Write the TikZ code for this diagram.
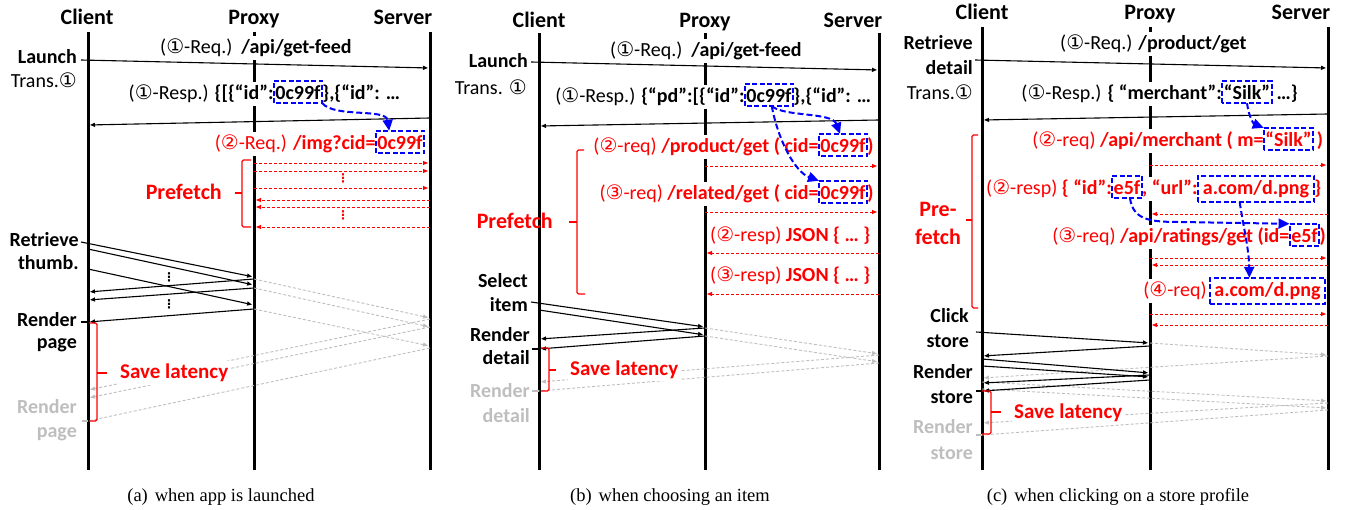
\documentclass[tikz,border=0pt]{standalone}
\usepackage{fontspec}
\setmainfont{Carlito}
\newfontfamily\symf{DejaVu Sans}
\newfontfamily\capf{Liberation Serif}
\usetikzlibrary{arrows.meta}
\definecolor{myred}{RGB}{255,0,0}
\definecolor{mygray}{RGB}{190,190,190}
\definecolor{myblue}{RGB}{0,0,255}
\newcommand\fs[1]{\fontsize{#1}{#1}\selectfont}
\newcommand\myc[1]{{\symf\fontsize{20}{20}\selectfont #1}}
\tikzset{
 life/.style={line width=3pt},
 hd/.style={font=\fs{22}\bfseries, anchor=base, inner sep=0pt},
 lb/.style={font=\fs{20}\bfseries, anchor=base east, inner sep=0pt},
 lr/.style={font=\fs{20}, anchor=base east, inner sep=0pt},
 tr/.style={font=\fs{20}, inner xsep=0pt, inner ysep=3pt, fill=white},
 bw/.style={tr, anchor=base west},
 be/.style={tr, anchor=base east},
 bxb/.style={font=\fs{20}\bfseries, inner xsep=1.5pt, inner ysep=2.5pt, text height=16.5pt, text depth=0.5pt, fill=white, anchor=base},
 msg/.style={black, line width=1.1pt, -{Triangle[length=5pt,width=4pt]}, shorten >=2pt},
 tick/.style={black, line width=1.1pt},
 gmsg/.style={mygray, line width=0.9pt, dash pattern=on 3pt off 2pt, -{Triangle[length=5pt,width=4pt]}, shorten >=2pt},
 gline/.style={mygray, line width=0.9pt, dash pattern=on 3pt off 2pt},
 gtick/.style={mygray, line width=1.1pt},
 rmsg/.style={myred, line width=0.9pt, dash pattern=on 3pt off 2pt, -{Triangle[length=5pt,width=4pt]}, shorten >=2pt},
 brc/.style={myred, line width=1.2pt, rounded corners=1.5pt},
 barr/.style={myblue, line width=2pt, dash pattern=on 6pt off 3pt, -{Triangle[length=11pt,width=10pt]}},
 bbox/.style={myblue, line width=2pt, dash pattern=on 5pt off 2.5pt},
 sl/.style={font=\fs{21}\bfseries, text=myred, anchor=base west, inner xsep=2pt, inner ysep=3pt, fill=white},
 pf/.style={font=\fs{22}\bfseries, text=myred, inner sep=0pt},
 capn/.style={font=\capf\fs{18.5}, anchor=base, inner sep=0pt},
 dots/.style={font=\symf\bfseries\fs{12}, inner sep=0pt}
}
\begin{document}
\begin{tikzpicture}[x=1pt,y=-1pt]
\useasboundingbox (0,0) rectangle (1349,510);
% ---------------- lifelines ----------------
\coordinate (aC) at (88,32); \coordinate (aP) at (254,32); \coordinate (aS) at (430,32);
\coordinate (bC) at (539,33); \coordinate (bP) at (705,33); \coordinate (bS) at (879,33);
\coordinate (cC) at (982,27); \coordinate (cP) at (1150,27); \coordinate (cS) at (1328,27);
\foreach \l in {aC,aP,aS,bC,bP,bS,cC,cP,cS} \draw[life] (\l) -- (\l |- 0,470);
% ---------------- headers ----------------
\node[hd] (aCh) at (87,25) {Client};
\node[hd] (aPh) at (254,25) {Proxy};
\node[hd] (aSh) at (403,25) {Server};
\node[hd] (bCh) at (539,28) {Client};
\node[hd] (bPh) at (705,28) {Proxy};
\node[hd] (bSh) at (853,28) {Server};
\node[hd] (cCh) at (982,20) {Client};
\node[hd] (cPh) at (1150,20) {Proxy};
\node[hd] (cSh) at (1301,20) {Server};
% ================= PANEL A =================
\node[lb] (aL1) at (77,64) {Launch};
\node[lr] (aL2) at (77,88) {Trans.\myc{①}};
\node[bw] (a1t) at (160,54) {(\myc{①}-Req.)\ \ \textbf{/api/get-feed}};
\node[bxb] (a_b1) at (298,100) {0c99f};
\node[be] (a2a) at (a_b1.base west) {(\myc{①}-Resp.) \textbf{\{[\{“id”:}\ };
\node[bw] (a2c) at (a_b1.base east) {\textbf{\},\{“id”: …}};
\node[bxb, text=myred] (a_b2) at (400,150) {0c99f};
\node[be, text=myred] (a3a) at (a_b2.base west) {(\myc{②}-Req.) \textbf{/img?cid=}};
\node[pf, anchor=base east] (aPf) at (222,200) {Prefetch};
\node[dots, text=myred] (aD1) at (343,178) {⋮};
\node[dots, text=myred] (aD2) at (343,215) {⋮};
\node[lb] (aR1) at (79,247) {Retrieve};
\node[lb] (aR2) at (79,270) {thumb.};
\node[dots] (aD3) at (169,277) {⋮};
\node[dots] (aD4) at (169,304) {⋮};
\node[lb] (aRp1) at (77,327) {Render};
\node[lb] (aRp2) at (77,349) {page};
\node[lb, text=mygray] (aG1) at (77,413) {Render};
\node[lb, text=mygray] (aG2) at (77,437) {page};
\node[capn] (aCap) at (221,501) {(a)\hspace{7pt}when app is launched};
% ================= PANEL B =================
\node[lb] (bL1) at (528,68) {Launch};
\node[lr] (bL2) at (527,95) {Trans. \myc{①}};
\node[bw] (b1t) at (610,57) {(\myc{①}-Req.)\ \ \textbf{/api/get-feed}};
\node[bxb] (b_b1) at (769,103) {0c99f};
\node[be] (b2a) at (b_b1.base west) {(\myc{①}-Resp.) \textbf{\{“pd”:[\{“id”:}\ };
\node[bw] (b2c) at (b_b1.base east) {\textbf{\},\{“id”: …}};
\node[bxb, text=myred] (b_b2) at (843,153) {0c99f};
\node[be, text=myred] (b3a) at (b_b2.base west) {(\myc{②}-req) \textbf{/product/get ( cid=}};
\node[bw, text=myred] (b3c) at (b_b2.base east) {\textbf{)}};
\node[bxb, text=myred] (b_b3) at (843,200) {0c99f};
\node[be, text=myred] (b4a) at (b_b3.base west) {(\myc{③}-req) \textbf{/related/get ( cid=}};
\node[bw, text=myred] (b4c) at (b_b3.base east) {\textbf{)}};
\node[bw, text=myred] (b5t) at (710,242) {(\myc{②}-resp) \textbf{JSON \{ … \}}};
\node[bw, text=myred] (b6t) at (710,282) {(\myc{③}-resp) \textbf{JSON \{ … \}}};
\node[pf, anchor=base east] (bPf) at (553,229) {Prefetch};
\node[lb] (bS1) at (528,288) {Select};
\node[lb] (bS2) at (528,312) {item};
\node[lb] (bRd1) at (530,342) {Render};
\node[lb] (bRd2) at (530,365) {detail};
\node[lb, text=mygray] (bG1) at (530,398) {Render};
\node[lb, text=mygray] (bG2) at (530,422) {detail};
\node[capn] (bCap) at (670,501) {(b)\hspace{7pt}when choosing an item};
% ================= PANEL C =================
\node[lb] (cL1) at (973,50) {Retrieve};
\node[lb] (cL2) at (973,75) {detail};
\node[lr] (cL3) at (973,100) {Trans.\myc{①}};
\node[bw] (c1t) at (1060,50) {(\myc{①}-Req.) \textbf{/product/get}};
\node[bxb] (c_b1) at (1247,100) {“Silk”};
\node[be] (c2a) at (c_b1.base west) {(\myc{①}-Resp.) \textbf{\{ “merchant”:}};
\node[bw] (c2c) at (c_b1.base east) {\textbf{\ …\}}};
\node[bxb, text=myred] (c_b2) at (1288.5,147) {“Silk”};
\node[be, text=myred] (c3a) at (c_b2.base west) {(\myc{②}-req) \textbf{/api/merchant ( m=}};
\node[bw, text=myred] (c3c) at (c_b2.base east) {\textbf{\,)}};
\node[bxb, text=myred] (c_b3) at (1127,195) {e5f};
\node[be, text=myred] (c4a) at (c_b3.base west) {(\myc{②}-resp) \textbf{\{ “id”:}};
\node[bw, text=myred] (c4m) at (c_b3.base east) {\textbf{, “url”:}};
\node[bxb, text=myred, anchor=base west, text depth=4.5pt, inner xsep=5pt] (c_b4) at (c4m.base east) {a.com/d.png};
\node[bw, text=myred] (c4c) at (c_b4.base east) {\textbf{\}}};
\node[bxb, text=myred] (c_b5) at (1304.5,243) {e5f};
\node[be, text=myred] (c5a) at (c_b5.base west) {(\myc{③}-req) \textbf{/api/ratings/get (id=}};
\node[bw, text=myred] (c5c) at (c_b5.base east) {\textbf{)}};
\node[bxb, text=myred, text depth=4.5pt, inner xsep=4pt] (c_b6) at (1267.5,297) {a.com/d.png};
\node[be, text=myred] (c6a) at (c_b6.base west) {(\myc{④}-req)\,};
\node[pf, anchor=base] (cPf1) at (938,217) {Pre-};
\node[pf, anchor=base] (cPf2) at (938,245) {fetch};
\node[lb] (cK1) at (969,323) {Click};
\node[lb] (cK2) at (969,348) {store};
\node[lb] (cRs1) at (973,378) {Render};
\node[lb] (cRs2) at (973,403) {store};
\node[lb, text=mygray] (cG1) at (973,433) {Render};
\node[lb, text=mygray] (cG2) at (973,459) {store};
\node[capn] (cCap) at (1118,501) {(c)\hspace{7pt}when clicking on a store profile};
% ---------------- gray (no prefetch) messages ----------------
\draw[gmsg] (aP |- 0,279) -- (aS |- 0,318);
\draw[gmsg] (aP |- 0,288) -- (aS |- 0,327);
\draw[gmsg] (aP |- 0,309) -- (aS |- 0,346);
\draw[gmsg] (aS |- 0,319) -- (aC |- 0,390);
\draw[gmsg] (aS |- 0,327) -- (aC |- 0,398);
\draw[gline] (aS |- 0,348) -- (aC |- 0,421);
\draw[gmsg] (bP |- 0,328) -- (bS |- 0,354);
\draw[gmsg] (bP |- 0,336) -- (bS |- 0,362);
\draw[gmsg] (bS |- 0,355) -- (bC |- 0,382);
\draw[gline] (bS |- 0,363) -- (bC |- 0,391);
\draw[gmsg] (cP |- 0,343) -- (cS |- 0,355);
\draw[gmsg] (cS |- 0,356) -- (cC |- 0,378);
\draw[gmsg] (cC |- 0,382) -- (cS |- 0,401);
\draw[gmsg] (cC |- 0,389) -- (cS |- 0,408);
\draw[gmsg] (cS |- 0,403) -- (cC |- 0,423);
\draw[gline] (cS |- 0,410) -- (cC |- 0,435);
\coordinate (aGt) at (82,421); \draw[gtick] (aGt) -- (aC |- aGt);
\coordinate (bGt) at (532,391); \draw[gtick] (bGt) -- (bC |- bGt);
\coordinate (cGt) at (976,435); \draw[gtick] (cGt) -- (cC |- cGt);
% Save latency labels (cover gray lines)
\node[sl] (aSl) at (118,379) {Save latency};
\node[sl] (bSl) at (568,375) {Save latency};
\node[sl] (cSl) at (1012,418) {Save latency};
% ---------------- black messages ----------------
\coordinate (a1s) at (81,60); \draw[msg] (a1s) -- (aS |- 0,68);
\draw[msg] (aS |- 0,118) -- (aC |- 0,125);
\coordinate (a4s) at (81,242); \draw[msg] (a4s) -- (aP |- 0,277);
\draw[msg] (aC |- 0,249) -- (aP |- 0,285);
\draw[msg] (aC |- 0,269) -- (aP |- 0,305);
\draw[msg] (aP |- 0,279) -- (aC |- 0,292);
\draw[msg] (aP |- 0,288) -- (aC |- 0,300);
\draw[msg] (aP |- 0,309) -- (aC |- 0,322);
\coordinate (aRt) at (81,322); \draw[tick] (aRt) -- (aC |- aRt);
\coordinate (b1s) at (531,62); \draw[msg] (b1s) -- (bS |- 0,70);
\draw[msg] (bS |- 0,120) -- (bC |- 0,126);
\coordinate (b4s) at (531,302); \draw[msg] (b4s) -- (bP |- 0,327);
\draw[msg] (bC |- 0,310) -- (bP |- 0,335);
\draw[msg] (bP |- 0,328) -- (bC |- 0,339);
\draw[msg] (bP |- 0,336) -- (bC |- 0,349);
\coordinate (bRt) at (532,349); \draw[tick] (bRt) -- (bC |- bRt);
\coordinate (c1s) at (975,60); \draw[msg] (c1s) -- (cS |- 0,68);
\draw[msg] (cS |- 0,114) -- (cC |- 0,120);
\coordinate (c4s) at (976,332); \draw[msg] (c4s) -- (cP |- 0,343);
\draw[msg] (cP |- 0,346) -- (cC |- 0,356);
\draw[msg] (cC |- 0,359) -- (cP |- 0,373);
\draw[msg] (cC |- 0,366) -- (cP |- 0,377);
\draw[msg] (cP |- 0,375) -- (cC |- 0,383);
\draw[msg] (cP |- 0,380) -- (cC |- 0,391);
\coordinate (cRt) at (976,391); \draw[tick] (cRt) -- (cC |- cRt);
% ---------------- red prefetch messages ----------------
\foreach \y in {163,171,188} \draw[rmsg] (aP |- 0,\y) -- (aS |- 0,\y);
\foreach \y in {200,207,227} \draw[rmsg] (aS |- 0,\y) -- (aP |- 0,\y);
\foreach \y in {166,212} \draw[rmsg] (bP |- 0,\y) -- (bS |- 0,\y);
\foreach \y in {253,294} \draw[rmsg] (bS |- 0,\y) -- (bP |- 0,\y);
\foreach \y in {165,258,314} \draw[rmsg] (cP |- 0,\y) -- (cS |- 0,\y);
\foreach \y in {214,265,325} \draw[rmsg] (cS |- 0,\y) -- (cP |- 0,\y);
% ---------------- braces ----------------
\draw[brc] (251,160) -- (242,160) -- (242,227) -- (251,227);
\draw[brc] (242,193) -- (235,193);
\draw[brc] (89,323) -- (97,323) -- (97,421) -- (89,421);
\draw[brc] (97,373) -- (107,373);
\draw[brc] (584,150) -- (577,150) -- (577,294) -- (585,294);
\draw[brc] (577,222) -- (569,222);
\draw[brc] (541,348) -- (549,348) -- (549,391) -- (541,391);
\draw[brc] (549,370) -- (556,370);
\draw[brc] (978,135) -- (972,135) -- (972,308) -- (978,308);
\draw[brc] (972,220) -- (966,220);
\draw[brc] (982,391) -- (991,391) -- (991,434) -- (982,434);
\draw[brc] (991,412) -- (1001,412);
% ---------------- blue boxes and arrows ----------------
\foreach \b in {a_b1,a_b2,b_b1,b_b2,b_b3,c_b1,c_b2,c_b3,c_b4,c_b5,c_b6}
  \draw[bbox] (\b.south west) rectangle (\b.north east);
\draw[barr] (a_b1.south east) .. controls (335,118) and (386,108) .. (a_b2.134);
\draw[barr] (b_b1.-76) .. controls (785,117) and (832,112) .. (b_b2.105);
\draw[barr] (b_b1.-76) .. controls (778,140) and (795,172) .. (b_b3.155);
\draw[barr] (c_b1.south) .. controls (1249,118) and (1254,124) .. (c_b2.north west);
\draw[barr] (c_b3.-75) .. controls (1133,220) and (1150,222) .. (1180,222) -- (c_b5.north west);
\draw[barr] (c_b4.219) .. controls (1244,230) and (1249,250) .. (c_b6.144);
\end{tikzpicture}
\end{document}
